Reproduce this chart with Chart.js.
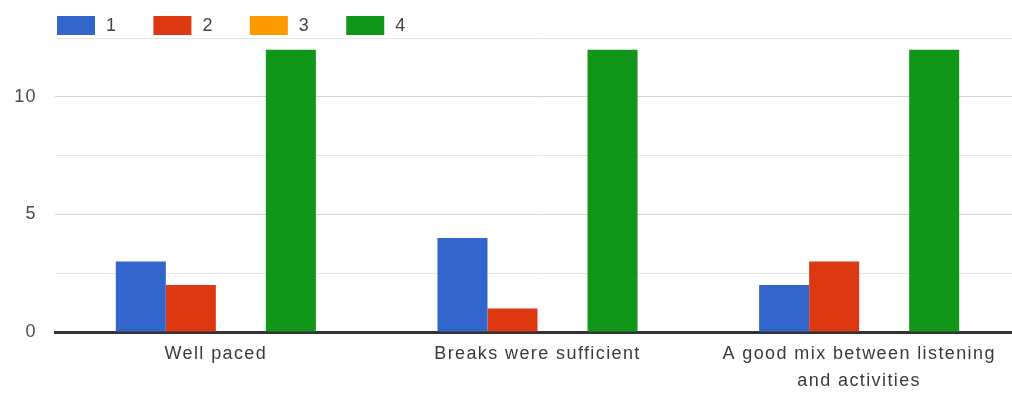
<!DOCTYPE html>
<html><head><meta charset="utf-8">
<script src="https://cdn.jsdelivr.net/npm/chart.js@4"></script>
<style>
html,body{margin:0;padding:0;background:#fff;overflow:hidden;width:1012px;height:397px}
#wrap{width:1022px;height:397px}
</style>
</head><body><div id="wrap"><canvas id="c" width="1022" height="397"></canvas></div>
<script>
const categories = ["Well paced", "Breaks were sufficient", ["A good mix between listening", "and activities"]];
const seriesNames = ["1", "2", "3", "4"];
const series1 = [3, 4, 2];
const series2 = [2, 1, 3];
const series3 = [0, 0, 0];
const series4 = [12, 12, 12];
const yTickLabels = [0, 5, 10];
const colors = ["#3366cc", "#dc3912", "#ff9900", "#109618"];

const FONT = '"Liberation Sans", Arial, sans-serif';
const SPACING = '1.4px';

const spacingPlugin = {
  id: 'spacing',
  beforeLayout(chart) { chart.ctx.letterSpacing = SPACING; },
  beforeDraw(chart) { chart.ctx.letterSpacing = SPACING; }
};

const legendPlugin = {
  id: 'customLegend',
  afterDraw(chart) {
    const ctx = chart.ctx;
    ctx.save();
    ctx.font = '18px ' + FONT;
    ctx.letterSpacing = SPACING;
    ctx.textBaseline = 'middle';
    ctx.textAlign = 'left';
    let x = 57;
    chart.data.datasets.forEach(ds => {
      ctx.fillStyle = ds.backgroundColor;
      ctx.fillRect(x, 16, 38, 19);
      ctx.fillStyle = '#444';
      ctx.fillText(ds.label, x + 49, 26);
      x += 38 + 12 + ctx.measureText(ds.label).width + 35;
    });
    ctx.restore();
  }
};

const allSeries = [series1, series2, series3, series4];

new Chart(document.getElementById('c'), {
  type: 'bar',
  data: {
    labels: categories,
    datasets: seriesNames.map((n, i) => ({
      label: n,
      data: allSeries[i],
      backgroundColor: colors[i],
      borderWidth: 0,
      categoryPercentage: 0.622,
      barPercentage: 1.0
    }))
  },
  options: {
    responsive: false,
    animation: false,
    devicePixelRatio: 1,
    layout: { padding: { top: 38, right: 2, bottom: 1, left: 0 } },
    plugins: { legend: { display: false }, tooltip: { enabled: false } },
    scales: {
      x: {
        grid: { display: false },
        border: { display: true, color: '#333', width: 3 },
        ticks: {
          color: '#3a3a3a',
          padding: 1,
          maxRotation: 0,
          autoSkip: false,
          font: { family: FONT, size: 18, lineHeight: 1.5 }
        }
      },
      y: {
        min: 0,
        max: 12.5,
        afterFit(scale) { scale.width = 55; },
        border: { display: false },
        grid: {
          drawTicks: false,
          color: c => c.tick.value === 0 ? 'rgba(0,0,0,0)' : (c.tick.value % 5 === 0 ? '#d4d4d4' : '#e6e6e6'),
          lineWidth: 1
        },
        ticks: {
          stepSize: 2.5,
          padding: 18,
          color: '#4a4a4a',
          font: { family: FONT, size: 18 },
          callback: v => yTickLabels.includes(v) ? String(v) : ''
        }
      }
    }
  },
  plugins: [spacingPlugin, legendPlugin]
});
</script>
</body></html>
